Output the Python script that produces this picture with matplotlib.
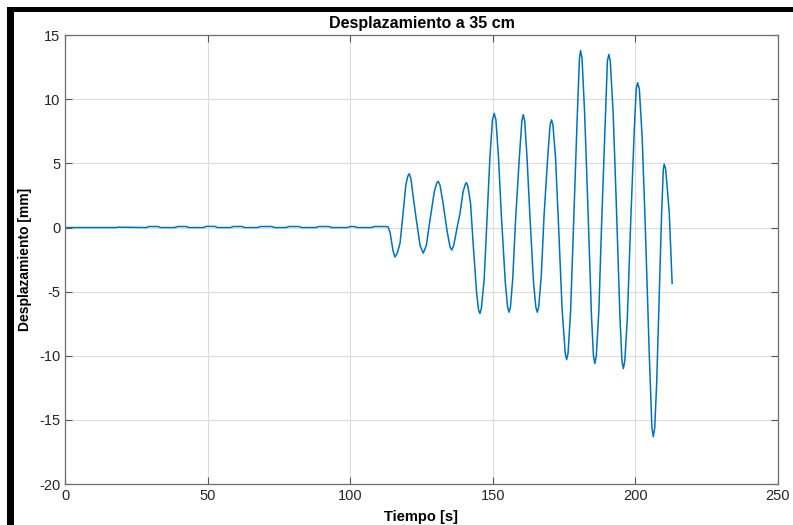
import matplotlib.pyplot as plt
from matplotlib.patches import Rectangle

plt.rcParams['font.family'] = ['Liberation Sans', 'DejaVu Sans']
plt.rcParams['axes.unicode_minus'] = False

# quiet part before the shaking starts
t_quiet = [0, 18, 18.5, 28.5, 29.5, 32.5, 33.5, 38.5, 39.5, 42.5, 43.5, 48.5, 49.5, 52.5, 53.5,
           58, 59, 62, 63, 67.5, 68.5, 72.5, 73.5, 77.5, 78.5, 82, 83, 88, 89, 92.5, 93.5,
           99, 100, 101.5, 102.5, 107.5, 108.5, 112.5, 113.3]
v_quiet = [0, 0, 0.03, 0, 0.08, 0.08, 0, 0, 0.08, 0.08, 0, 0, 0.09, 0.09, 0,
           0, 0.08, 0.08, 0, 0, 0.08, 0.08, 0, 0, 0.08, 0.08, 0, 0, 0.08, 0.08, 0,
           0, 0.08, 0.08, 0, 0, 0.08, 0.08, 0.05]

# oscillation (extremes, shoulders, crossings)
t_osc = [114.0, 115.0, 115.7, 116.5, 117.5, 118.5, 119.5, 120.2, 120.7, 121.3, 122.1, 123.2, 124.5, 125.6,
         126.7, 128.0, 129.5, 130.4, 130.9, 131.5, 132.5, 134.0, 135.0, 135.6, 136.3, 137.5, 138.5,
         139.6, 140.4, 140.8, 141.3, 142.2, 143.2, 144.3, 145.0, 145.5, 146.0, 147.0, 148.0, 149.0,
         149.9, 150.5, 151.1, 152.0, 153.0, 154.4, 155.2, 155.7, 156.2, 157.0, 158.0, 159.3, 160.2,
         160.7, 161.2, 162.0, 163.0, 164.3, 165.1, 165.6, 166.1, 167.0, 168.0, 169.3, 170.1, 170.6,
         171.1, 172.0, 173.0, 174.3, 175.4, 175.9, 176.4, 177.3, 178.3, 179.6, 180.4, 180.8, 181.3,
         182.2, 183.3, 184.6, 185.3, 185.8, 186.3, 187.2, 188.2, 189.5, 190.2, 190.7, 191.2, 192.2,
         193.3, 194.6, 195.3, 195.8, 196.3, 197.2, 198.3, 199.6, 200.3, 200.8, 201.4, 202.4, 203.5,
         204.9, 205.8, 206.3, 206.8, 207.5, 208.3, 209.2, 209.8, 210.1, 210.6, 211.0, 211.9, 212.5,
         212.9]
v_osc = [-0.4, -1.8, -2.3, -2.0, -1.2, 1.0, 3.3, 4.0, 4.2, 3.8, 2.4, 0.6, -1.4, -2.0,
         -1.4, 0.6, 2.8, 3.5, 3.6, 3.3, 2.0, -0.3, -1.5, -1.75, -1.4, 0.0, 1.1,
         2.8, 3.4, 3.5, 3.2, 1.9, -1.5, -5.0, -6.4, -6.7, -6.3, -4.0, 0.8, 5.5,
         8.4, 8.9, 8.4, 5.5, 1.0, -4.3, -6.2, -6.6, -6.2, -4.0, 0.6, 5.4,
         8.3, 8.8, 8.3, 5.5, 1.0, -4.3, -6.2, -6.6, -6.2, -3.8, 1.0, 5.6,
         8.0, 8.4, 8.0, 5.5, 0.5, -6.3, -9.8, -10.3, -9.8, -6.5, 0.0, 8.5,
         13.2, 13.8, 13.2, 9.0, 2.0, -6.8, -10.0, -10.6, -10.0, -6.5, 0.5, 8.5,
         13.0, 13.5, 13.0, 9.0, 2.0, -7.0, -10.4, -11.0, -10.4, -7.0, 0.0, 7.5,
         10.8, 11.3, 10.8, 7.0, 0.0, -10.0, -15.6, -16.3, -15.6, -12.0, -6.0, 1.0,
         4.5, 4.95, 4.6, 3.6, 1.1, -2.3, -4.35]

t = t_quiet + t_osc
v = v_quiet + v_osc

fig = plt.figure(figsize=(7.93, 5.25), dpi=100)
ax = fig.add_axes([0.082, 0.078, 0.899, 0.855])

ax.plot(t, v, color='#0072BD', lw=1.1)

ax.set_xlim(0, 250)
ax.set_ylim(-20, 15)
ax.set_xticks([0, 50, 100, 150, 200, 250])
ax.set_yticks([-20, -15, -10, -5, 0, 5, 10, 15])
ax.grid(True, color='#dcdcdc', lw=0.8)
ax.set_axisbelow(True)
ax.tick_params(direction='in', length=5, width=0.8, color='#555555',
               labelsize=10.5, labelcolor='#262626', top=True, right=True,
               labeltop=False, labelright=False)
for s in ax.spines.values():
    s.set_color('#6e6e6e')
    s.set_linewidth(0.9)

ax.set_title('Desplazamiento a 35 cm', fontsize=11.5, fontweight='bold', pad=5)
ax.set_xlabel('Tiempo [s]', fontsize=10.5, fontweight='bold', labelpad=5)
ax.set_ylabel('Desplazamiento [mm]', fontsize=10, fontweight='bold', labelpad=5)

# black frame bits from the screenshot
W, H = 793, 525
fig.add_artist(Rectangle((7 / W, 0), 7 / W, (H - 7) / H, transform=fig.transFigure,
                         color='black', lw=0))
fig.add_artist(Rectangle((7 / W, (H - 12) / H), 1 - 7 / W, 5 / H, transform=fig.transFigure,
                         color='black', lw=0))

fig.savefig('out.png', dpi=100)
